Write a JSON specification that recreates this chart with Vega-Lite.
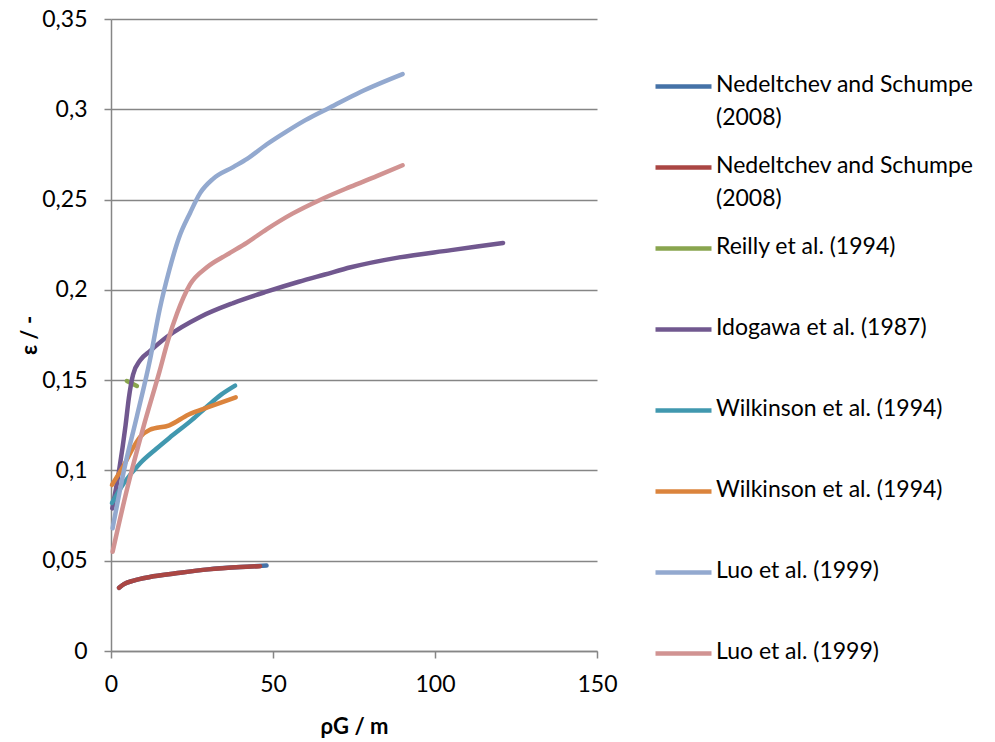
{
  "$schema": "https://vega.github.io/schema/vega-lite/v6.json",
  "autosize": "none",
  "width": 486,
  "height": 632,
  "padding": {"left": 111, "top": 19, "right": 398, "bottom": 91},
  "background": "white",
  "data": {
    "values": [
      {"s": "s1", "x": 2.5, "y": 0.035}, {"s": "s1", "x": 4, "y": 0.037}, {"s": "s1", "x": 7, "y": 0.039}, {"s": "s1", "x": 12, "y": 0.041}, {"s": "s1", "x": 20, "y": 0.043}, {"s": "s1", "x": 30, "y": 0.0452}, {"s": "s1", "x": 40, "y": 0.0465}, {"s": "s1", "x": 48, "y": 0.0473},
      {"s": "s2", "x": 2.5, "y": 0.035}, {"s": "s2", "x": 4, "y": 0.037}, {"s": "s2", "x": 7, "y": 0.039}, {"s": "s2", "x": 12, "y": 0.041}, {"s": "s2", "x": 20, "y": 0.043}, {"s": "s2", "x": 30, "y": 0.0452}, {"s": "s2", "x": 40, "y": 0.0465}, {"s": "s2", "x": 46, "y": 0.047},
      {"s": "s3", "x": 4.9, "y": 0.1495}, {"s": "s3", "x": 8, "y": 0.1468},
      {"s": "s4", "x": 0.4, "y": 0.079}, {"s": "s4", "x": 2.5, "y": 0.1}, {"s": "s4", "x": 4.5, "y": 0.125}, {"s": "s4", "x": 5.5, "y": 0.14}, {"s": "s4", "x": 6.8, "y": 0.153}, {"s": "s4", "x": 9, "y": 0.161}, {"s": "s4", "x": 12, "y": 0.166}, {"s": "s4", "x": 17.3, "y": 0.174}, {"s": "s4", "x": 27.5, "y": 0.185}, {"s": "s4", "x": 37.7, "y": 0.1927}, {"s": "s4", "x": 48, "y": 0.199}, {"s": "s4", "x": 58, "y": 0.2045}, {"s": "s4", "x": 66, "y": 0.2085}, {"s": "s4", "x": 74, "y": 0.2125}, {"s": "s4", "x": 89, "y": 0.218}, {"s": "s4", "x": 105, "y": 0.222}, {"s": "s4", "x": 121, "y": 0.226},
      {"s": "s5", "x": 0.3, "y": 0.082}, {"s": "s5", "x": 4, "y": 0.093}, {"s": "s5", "x": 9, "y": 0.104}, {"s": "s5", "x": 14, "y": 0.112}, {"s": "s5", "x": 18, "y": 0.118}, {"s": "s5", "x": 25, "y": 0.128}, {"s": "s5", "x": 30, "y": 0.136}, {"s": "s5", "x": 34, "y": 0.142}, {"s": "s5", "x": 38.3, "y": 0.147},
      {"s": "s6", "x": 0.3, "y": 0.092}, {"s": "s6", "x": 4, "y": 0.103}, {"s": "s6", "x": 7, "y": 0.113}, {"s": "s6", "x": 9, "y": 0.1185}, {"s": "s6", "x": 12, "y": 0.1225}, {"s": "s6", "x": 18, "y": 0.125}, {"s": "s6", "x": 24, "y": 0.131}, {"s": "s6", "x": 30, "y": 0.135}, {"s": "s6", "x": 38.5, "y": 0.1405},
      {"s": "s7", "x": 0.5, "y": 0.068}, {"s": "s7", "x": 4, "y": 0.1}, {"s": "s7", "x": 8, "y": 0.13}, {"s": "s7", "x": 12, "y": 0.161}, {"s": "s7", "x": 15, "y": 0.189}, {"s": "s7", "x": 18, "y": 0.211}, {"s": "s7", "x": 21, "y": 0.229}, {"s": "s7", "x": 24.4, "y": 0.2426}, {"s": "s7", "x": 27.5, "y": 0.2536}, {"s": "s7", "x": 31.5, "y": 0.2615}, {"s": "s7", "x": 37.7, "y": 0.268}, {"s": "s7", "x": 42, "y": 0.2725}, {"s": "s7", "x": 48, "y": 0.2805}, {"s": "s7", "x": 54, "y": 0.2875}, {"s": "s7", "x": 60, "y": 0.294}, {"s": "s7", "x": 67.6, "y": 0.301}, {"s": "s7", "x": 77, "y": 0.3096}, {"s": "s7", "x": 90, "y": 0.3195},
      {"s": "s8", "x": 0.5, "y": 0.055}, {"s": "s8", "x": 5, "y": 0.09}, {"s": "s8", "x": 10, "y": 0.124}, {"s": "s8", "x": 15, "y": 0.155}, {"s": "s8", "x": 17.6, "y": 0.172}, {"s": "s8", "x": 20.4, "y": 0.187}, {"s": "s8", "x": 24.4, "y": 0.203}, {"s": "s8", "x": 29.6, "y": 0.2125}, {"s": "s8", "x": 35.8, "y": 0.2195}, {"s": "s8", "x": 42, "y": 0.2262}, {"s": "s8", "x": 48, "y": 0.2335}, {"s": "s8", "x": 56, "y": 0.2422}, {"s": "s8", "x": 64.5, "y": 0.2498}, {"s": "s8", "x": 73.8, "y": 0.257}, {"s": "s8", "x": 82, "y": 0.263}, {"s": "s8", "x": 90, "y": 0.269}
    ]
  },
  "mark": {"type": "line", "strokeWidth": 4.5, "strokeCap": "round", "strokeJoin": "round", "interpolate": "monotone"},
  "encoding": {
    "x": {
      "field": "x", "type": "quantitative",
      "scale": {"domain": [0, 150], "nice": false, "zero": true},
      "axis": {
        "title": "ρG / m", "values": [0, 50, 100, 150], "grid": false, "labelFlush": false,
        "tickSize": 7, "labelPadding": 15, "titlePadding": 20
      }
    },
    "y": {
      "field": "y", "type": "quantitative",
      "scale": {"domain": [0, 0.35], "nice": false},
      "axis": {
        "title": "ε / -", "values": [0, 0.05, 0.1, 0.15, 0.2, 0.25, 0.3, 0.35],
        "labelExpr": "replace(format(datum.value, '.2~f'), '.', ',')",
        "tickSize": 7, "labelPadding": 17, "titlePadding": 0, "grid": true
      }
    },
    "color": {
      "field": "s", "type": "nominal",
      "scale": {
        "domain": ["s1", "s2", "s3", "s4", "s5", "s6", "s7", "s8"],
        "range": ["#4572A7", "#AA4643", "#89A54E", "#71588F", "#4198AF", "#DB843D", "#93A9CF", "#D19392"]
      },
      "legend": {
        "title": null, "orient": "none", "legendX": 542, "legendY": 37,
        "symbolType": "stroke", "symbolSize": 3136, "symbolStrokeWidth": 4.5,
        "gridAlign": "all", "rowPadding": 7, "labelBaseline": "top",
        "labelExpr": "datum.value == 's1' || datum.value == 's2' ? ['Nedeltchev and Schumpe', '(2008)'] : datum.value == 's3' ? 'Reilly et al. (1994)' : datum.value == 's4' ? 'Idogawa et al. (1987)' : datum.value == 's5' || datum.value == 's6' ? 'Wilkinson et al. (1994)' : 'Luo et al. (1999)'",
        "labelOffset": 2, "labelLimit": 400,
        "encode": {"labels": {"update": {"dy": {"value": -13}, "lineHeight": {"value": 33}}}}
      }
    }
  },
  "config": {
    "font": "Lato",
    "view": {"stroke": null},
    "axis": {
      "domainColor": "#868686", "tickColor": "#868686", "gridColor": "#868686",
      "domainWidth": 1.5, "tickWidth": 1.5, "gridWidth": 1.5,
      "labelFont": "Lato", "labelFontSize": 23, "labelColor": "#000000",
      "titleFont": "Lato", "titleFontSize": 22, "titleFontWeight": "bold", "titleColor": "#000000"
    },
    "legend": {"labelFont": "Lato", "labelFontSize": 23, "labelColor": "#000000", "padding": 0}
  }
}
